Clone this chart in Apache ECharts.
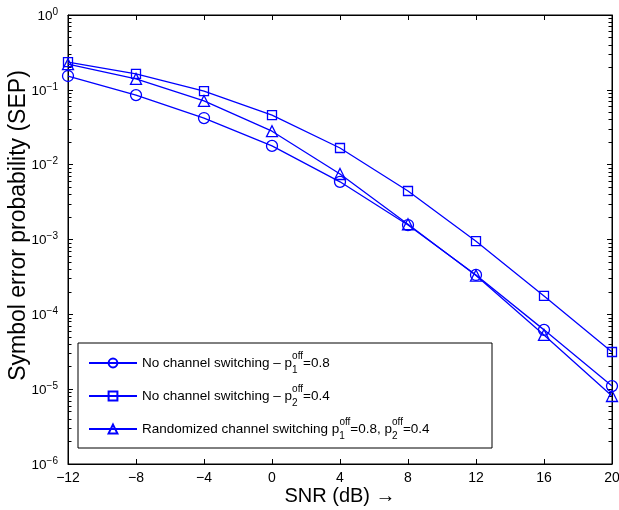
<!DOCTYPE html>
<html><head><meta charset="utf-8">
<script src="https://cdn.jsdelivr.net/npm/echarts@6/dist/echarts.min.js"></script>
<style>html,body{margin:0;padding:0;background:#fff}#c{width:619px;height:510px}</style>
</head><body><div id="c"></div>
<script>
const snr = [-12, -8, -4, 0, 4, 8, 12, 16, 20];
const sepP1 = [0.153, 0.085, 0.042, 0.0178, 0.0059, 0.00156, 3.36e-4, 6.2e-5, 1.1e-5];
const sepP2 = [0.235, 0.163, 0.096, 0.046, 0.0167, 0.00445, 9.5e-4, 1.76e-4, 3.14e-5];
const sepRand = [0.22, 0.14, 0.071, 0.028, 0.0075, 0.0016, 3.3e-4, 5.3e-5, 8.1e-6];
const xTicks = [-12, -8, -4, 0, 4, 8, 12, 16, 20];
const seriesNames = ['p1', 'p2', 'rand'];
const legendText = {
  p1: '{t|No channel switching – p}{sb|1}{sp|off}{t|=0.8}',
  p2: '{t|No channel switching – p}{sb|2}{sp|off}{t|=0.4}',
  rand: '{t|Randomized channel switching p}{sb|1}{sp|off}{t|=0.8, p}{sb|2}{sp|off}{t|=0.4}'
};
const FONT = 'Liberation Sans, Arial, Helvetica, sans-serif';
const BLUE = '#0000ff';
const chart = echarts.init(document.getElementById('c'), null, {renderer: 'canvas'});
function mk(vals) { return snr.map((x, i) => [x, vals[i]]); }
function lineSeries(name, vals, sym, size) {
  return {
    name, type: 'line', data: mk(vals), symbol: sym, symbolSize: size,
    showAllSymbol: true,
    lineStyle: {color: BLUE, width: 1.3},
    itemStyle: {color: 'rgba(0,0,0,0)', borderColor: BLUE, borderWidth: 1.3},
    emphasis: {disabled: true}, animation: false, z: 3
  };
}
const yLabel = {
  fontFamily: FONT, color: '#000',
  formatter: v => { const e = Math.round(Math.log10(v)); return '{b|10}{s|' + (e === 0 ? '0' : '−' + (-e)) + '}'; },
  rich: {
    b: {fontSize: 13.5, fontFamily: FONT, color: '#000', verticalAlign: 'bottom', lineHeight: 16},
    s: {fontSize: 10, fontFamily: FONT, color: '#000', verticalAlign: 'top', lineHeight: 10}
  },
  margin: 10
};
const commonX = {type: 'value', min: -12, max: 20, interval: 4, splitLine: {show: false},
  axisLine: {show: true, onZero: false, lineStyle: {color: '#000', width: 1}},
  axisTick: {show: true, inside: true, length: 5, lineStyle: {color: '#000'}}};
const commonY = {type: 'log', logBase: 10, min: 1e-6, max: 1, splitLine: {show: false},
  axisLine: {show: true, onZero: false, lineStyle: {color: '#000', width: 1}},
  axisTick: {show: true, inside: true, length: 5, lineStyle: {color: '#000'}},
  minorTick: {show: true, splitNumber: 9, length: 3.5, lineStyle: {color: '#000', width: 1}}};
chart.setOption({
  backgroundColor: '#fff',
  animation: false,
  grid: {left: 68, right: 7, top: 15, bottom: 46, outerBoundsMode: 'none', containLabel: false,
    show: true, borderColor: '#000', borderWidth: 1, backgroundColor: 'transparent'},
  xAxis: [
    Object.assign({}, commonX, {position: 'bottom',
      axisLabel: {fontFamily: FONT, fontSize: 14, color: '#000', margin: 7, formatter: v => (v < 0 ? '−' + (-v) : '' + v)},
      name: 'SNR (dB) →', nameLocation: 'middle', nameGap: 22, nameMoveOverlap: false,
      nameTextStyle: {fontFamily: FONT, fontSize: 20, color: '#000'}}),
    Object.assign({}, commonX, {position: 'top', axisLabel: {show: false}})
  ],
  yAxis: [
    Object.assign({}, commonY, {position: 'left', axisLabel: yLabel,
      name: 'Symbol error probability (SEP)', nameLocation: 'middle', nameGap: 38, nameMoveOverlap: false,
      nameTextStyle: {fontFamily: FONT, fontSize: 23, color: '#000', padding: [0, 0, 0, 28]}}),
    Object.assign({}, commonY, {position: 'right', axisLabel: {show: false}})
  ],
  legend: {
    orient: 'vertical', left: 88, top: 351, itemWidth: 48, itemHeight: 11, itemGap: 9,
    padding: 0, selectedMode: false, data: seriesNames,
    formatter: n => legendText[n],
    textStyle: {
      fontFamily: FONT, fontSize: 13.5, color: '#000',
      rich: {
        t: {fontFamily: FONT, fontSize: 13.5, color: '#000', verticalAlign: 'middle', lineHeight: 24},
        sp: {fontFamily: FONT, fontSize: 10, color: '#000', verticalAlign: 'top', lineHeight: 10},
        sb: {fontFamily: FONT, fontSize: 10, color: '#000', verticalAlign: 'bottom', lineHeight: 10, width: 0.01}
      }
    }
  },
  graphic: [{type: 'rect', shape: {x: 78, y: 343, width: 414, height: 105}, style: {fill: '#fff', stroke: '#000', lineWidth: 1}, z: 1, silent: true}],
  series: [
    lineSeries('p1', sepP1, 'circle', 11),
    lineSeries('p2', sepP2, 'rect', 9),
    lineSeries('rand', sepRand, 'triangle', 11)
  ]
});
</script></body></html>
